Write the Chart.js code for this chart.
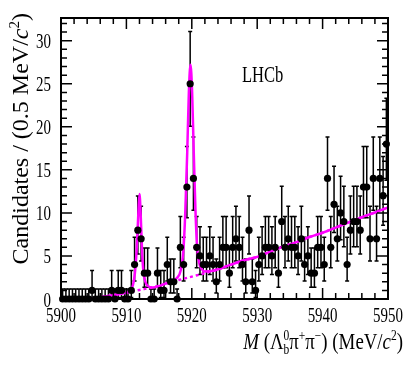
<!DOCTYPE html>
<html>
<head>
<meta charset="utf-8">
<script src="https://cdn.jsdelivr.net/npm/chart.js@4.4.0/dist/chart.umd.min.js"></script>
<style>
  html, body { margin: 0; padding: 0; background: #fff; }
</style>
</head>
<body>
<canvas id="chart" width="409" height="365"></canvas>
<script>
// bin centres, 0.5 MeV bins
const massBins = [
    5900.25, 5900.75, 5901.25, 5901.75, 5902.25, 5902.75, 5903.25, 5903.75, 5904.25, 5904.75,
    5905.25, 5905.75, 5906.25, 5906.75, 5907.25, 5907.75, 5908.25, 5908.75, 5909.25, 5909.75,
    5910.25, 5910.75, 5911.25, 5911.75, 5912.25, 5912.75, 5913.25, 5913.75, 5914.25, 5914.75,
    5915.25, 5915.75, 5916.25, 5916.75, 5917.25, 5917.75, 5918.25, 5918.75, 5919.25, 5919.75,
    5920.25, 5920.75, 5921.25, 5921.75, 5922.25, 5922.75, 5923.25, 5923.75, 5924.25, 5924.75,
    5925.25, 5925.75, 5926.25, 5926.75, 5927.25, 5927.75, 5928.25, 5928.75, 5929.25, 5929.75,
    5930.25, 5930.75, 5931.25, 5931.75, 5932.25, 5932.75, 5933.25, 5933.75, 5934.25, 5934.75,
    5935.25, 5935.75, 5936.25, 5936.75, 5937.25, 5937.75, 5938.25, 5938.75, 5939.25, 5939.75,
    5940.25, 5940.75, 5941.25, 5941.75, 5942.25, 5942.75, 5943.25, 5943.75, 5944.25, 5944.75,
    5945.25, 5945.75, 5946.25, 5946.75, 5947.25, 5947.75, 5948.25, 5948.75, 5949.25, 5949.75
];

// candidates per bin
const counts = [
    0, 0, 0, 0, 0, 0, 0, 0, 0, 1,
    0, 0, 0, 0, 0, 1, 0, 1, 1, 0,
    0, 1, 4, 8, 7, 3, 3, 0, 0, 3,
    1, 1, 4, 2, 2, 0, 6, 4, 13, 25,
    14, 6, 5, 4, 4, 5, 4, 2, 4, 6,
    6, 3, 6, 7, 6, 4, 2, 8, 2, 1,
    4, 5, 6, 6, 5, 6, 3, 9, 6, 7,
    6, 6, 5, 7, 4, 5, 3, 3, 6, 6,
    4, 14, 6, 11, 7, 10, 9, 4, 8, 9,
    9, 8, 13, 13, 7, 14, 7, 14, 12, 18
];

// poisson 68% interval edges, indexed by count
const poissonLow = [0, 0.17, 0.71, 1.37, 2.09, 2.84, 3.62, 4.42, 5.23, 6.06, 6.89, 7.73, 8.58,
    9.44, 10.30, 11.16, 12.04, 12.91, 13.79, 14.68, 15.57, 16.46, 17.36, 18.25, 19.16, 20.06];
const poissonHigh = [1.15, 3.30, 4.64, 5.92, 7.16, 8.38, 9.58, 10.77, 11.95, 13.11, 14.27, 15.42, 16.56,
    17.70, 18.83, 19.96, 21.08, 22.20, 23.32, 24.43, 25.54, 26.65, 27.76, 28.86, 29.96, 31.06];

// total fit
const fitMass = [5904.5, 5906, 5908, 5909.5, 5910.5, 5911, 5911.3, 5911.55, 5911.8, 5912, 5912.2,
    5912.4, 5912.6, 5912.9, 5913.3, 5914, 5915, 5916, 5917, 5917.8, 5918.3, 5918.7, 5919, 5919.3,
    5919.55, 5919.8, 5920.05, 5920.3, 5920.55, 5920.8, 5921.1, 5921.5, 5922, 5923, 5924, 5926,
    5928, 5930, 5932, 5934, 5936, 5938, 5940, 5942, 5944, 5946, 5948, 5950];
const fitTotal = [0, 0.2, 0.45, 0.65, 0.95, 1.6, 3.0, 5.5, 9.5, 12.2, 9.5,
    5.5, 3.2, 2.0, 1.5, 1.35, 1.5, 1.8, 2.1, 2.5, 3.3, 5.5, 10, 17,
    24, 27.2, 24, 17, 10.5, 6.2, 4.3, 3.5, 3.2, 3.25, 3.45, 4.0,
    4.5, 4.9, 5.5, 6.1, 6.6, 7.2, 7.7, 8.3, 8.9, 9.5, 10.05, 10.65];

// background component (dashed)
const bkgMass = [5904.5, 5906, 5908, 5910, 5912, 5914, 5916, 5918, 5920, 5922, 5924, 5926,
    5928, 5930, 5932, 5934, 5936, 5938, 5940, 5942, 5944, 5946, 5948, 5950];
const bkgValues = [0, 0.2, 0.45, 0.75, 1.05, 1.35, 1.75, 2.2, 2.6, 3.0, 3.45, 4.0,
    4.5, 4.9, 5.5, 6.1, 6.6, 7.2, 7.7, 8.3, 8.9, 9.5, 10.05, 10.65];

const xTickValues = [5900, 5910, 5920, 5930, 5940, 5950];
const xTickLabels = ['5900', '5910', '5920', '5930', '5940', '5950'];
const yTickValues = [0, 5, 10, 15, 20, 25, 30];
const yTickLabels = ['0', '5', '10', '15', '20', '25', '30'];

const FONT = '"Liberation Serif", "Times New Roman", serif';
const MAGENTA = '#ff00ff';

// draws a list of text pieces (sub/superscripts) one after another
function drawRich(ctx, runs, x, y, squeeze, align) {
    let total = 0;
    runs.forEach(r => {
        ctx.font = (r.italic ? 'italic ' : '') + r.size + 'px ' + FONT;
        r.w = ctx.measureText(r.text).width;
        if (!r.stack) total += r.w;
    });
    ctx.save();
    ctx.translate(x, y);
    ctx.scale(squeeze, 1);
    ctx.textAlign = 'left';
    ctx.textBaseline = 'alphabetic';
    let cx = align === 'right' ? -total : (align === 'center' ? -total / 2 : 0);
    runs.forEach(r => {
        ctx.font = (r.italic ? 'italic ' : '') + r.size + 'px ' + FONT;
        ctx.fillText(r.text, cx, r.dy || 0);
        if (!r.stack) cx += r.w;
    });
    ctx.restore();
}

const lhcbFrame = {
    id: 'lhcbFrame',
    beforeDatasetsDraw(chart) {
        // error bars under the points
        const ctx = chart.ctx;
        const xs = chart.scales.x, ys = chart.scales.y;
        ctx.save();
        ctx.strokeStyle = '#000';
        ctx.lineWidth = 1.5;
        massBins.forEach((m, i) => {
            const n = counts[i];
            const px = xs.getPixelForValue(m);
            const top = ys.getPixelForValue(poissonHigh[n]);
            const bot = ys.getPixelForValue(poissonLow[n]);
            ctx.beginPath();
            ctx.moveTo(px, top); ctx.lineTo(px, bot);
            ctx.moveTo(px - 2, top); ctx.lineTo(px + 2, top);
            ctx.moveTo(px - 2, bot); ctx.lineTo(px + 2, bot);
            ctx.stroke();
        });
        ctx.restore();
    },
    afterDraw(chart) {
        const ctx = chart.ctx;
        const a = chart.chartArea;
        const xs = chart.scales.x, ys = chart.scales.y;
        ctx.save();
        ctx.strokeStyle = '#000';
        ctx.fillStyle = '#000';

        // ticks pointing inwards on all four sides
        ctx.lineWidth = 1.5;
        ctx.beginPath();
        for (let v = 5900; v <= 5950; v += 2) {
            const px = xs.getPixelForValue(v);
            const len = (v % 10 === 0) ? 11 : 6;
            ctx.moveTo(px, a.bottom); ctx.lineTo(px, a.bottom - len);
            ctx.moveTo(px, a.top); ctx.lineTo(px, a.top + len);
        }
        for (let v = 0; v <= 32; v += 1) {
            const py = ys.getPixelForValue(v);
            const len = (v % 5 === 0) ? 11 : 6;
            ctx.moveTo(a.left, py); ctx.lineTo(a.left + len, py);
            ctx.moveTo(a.right, py); ctx.lineTo(a.right - len, py);
        }
        ctx.stroke();

        ctx.lineWidth = 2;
        ctx.strokeRect(a.left, a.top, a.right - a.left, a.bottom - a.top);

        // tick labels
        xTickValues.forEach((v, i) => {
            drawRich(ctx, [{ text: xTickLabels[i], size: 22 }], xs.getPixelForValue(v), 322, 0.68, 'center');
        });
        yTickValues.forEach((v, i) => {
            drawRich(ctx, [{ text: yTickLabels[i], size: 22 }], 51, ys.getPixelForValue(v) + 7.5, 0.68, 'right');
        });

        // axis titles
        drawRich(ctx, [
            { text: 'M', size: 23, italic: true },
            { text: ' (\u039b', size: 23 },
            { text: '0', size: 14, dy: -9, stack: true },
            { text: 'b', size: 14, dy: 5 },
            { text: '\u03c0', size: 23 },
            { text: '+', size: 14, dy: -9 },
            { text: '\u03c0', size: 23 },
            { text: '\u2212', size: 14, dy: -9 },
            { text: ') (MeV/', size: 23 },
            { text: 'c', size: 23, italic: true },
            { text: '2', size: 14, dy: -9 },
            { text: ')', size: 23 }
        ], 403, 349, 0.82, 'right');

        ctx.save();
        ctx.translate(28, 13);
        ctx.rotate(-Math.PI / 2);
        drawRich(ctx, [
            { text: 'Candidates / (0.5 MeV/', size: 24 },
            { text: 'c', size: 24, italic: true },
            { text: '2', size: 15, dy: -9 },
            { text: ')', size: 24 }
        ], 0, 0, 1, 'right');
        ctx.restore();

        drawRich(ctx, [{ text: 'LHCb', size: 23 }], 242, 82, 0.72, 'left');
        ctx.restore();
    }
};

const ctx = document.getElementById('chart').getContext('2d');
new Chart(ctx, {
    type: 'scatter',
    data: {
        datasets: [
            {
                label: 'Data',
                data: massBins.map((m, i) => ({ x: m, y: counts[i] })),
                backgroundColor: '#000',
                borderColor: '#000',
                pointRadius: 3.6,
                pointBorderWidth: 0,
                clip: false,
                order: 0
            },
            {
                label: 'Fit',
                data: fitMass.map((m, i) => ({ x: m, y: fitTotal[i] })),
                showLine: true,
                borderColor: MAGENTA,
                borderWidth: 2.5,
                pointRadius: 0,
                cubicInterpolationMode: 'monotone',
                order: 1
            },
            {
                label: 'Background',
                data: bkgMass.map((m, i) => ({ x: m, y: bkgValues[i] })),
                showLine: true,
                borderColor: MAGENTA,
                borderWidth: 2.5,
                borderDash: [3, 3],
                pointRadius: 0,
                cubicInterpolationMode: 'monotone',
                order: 2
            }
        ]
    },
    options: {
        responsive: false,
        animation: false,
        devicePixelRatio: 1,
        layout: { padding: { left: 61, right: 21, top: 18, bottom: 66 } },
        plugins: { legend: { display: false }, tooltip: { enabled: false } },
        scales: {
            x: { type: 'linear', min: 5900, max: 5950, display: false },
            y: { type: 'linear', min: 0, max: 32.64, display: false }
        }
    },
    plugins: [lhcbFrame]
});
</script>
</body>
</html>
